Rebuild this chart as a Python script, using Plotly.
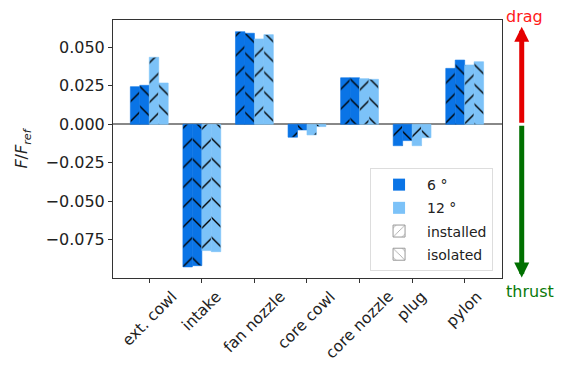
import plotly.graph_objects as go

categories = ["ext. cowl", "intake", "fan nozzle", "core cowl", "core nozzle", "plug", "pylon"]
inst_6 = [0.0244, -0.0926, 0.0601, -0.0084, 0.0302, -0.0139, 0.0363]
isol_6 = [0.0253, -0.0918, 0.0591, -0.0037, 0.0302, -0.0106, 0.0417]
inst_12 = [0.0435, -0.0820, 0.0554, -0.0069, 0.0296, -0.0139, 0.0385]
isol_12 = [0.0268, -0.0827, 0.0582, -0.0015, 0.0292, -0.0087, 0.0406]
y_ticks = [-0.075, -0.050, -0.025, 0.000, 0.025, 0.050]

DARK = "#0a74e6"
LIGHT = "#7cc2f8"
FONT = "DejaVu Sans"

series = [
    (inst_6, DARK, "/"),
    (isol_6, DARK, "\\"),
    (inst_12, LIGHT, "/"),
    (isol_12, LIGHT, "\\"),
]

fig = go.Figure()
bw = 0.18
for i, (vals, col, hatch) in enumerate(series):
    fig.add_trace(go.Bar(
        x=categories, y=vals, width=bw, offset=-2 * bw + i * bw,
        marker=dict(color=col, line=dict(color=col, width=0.6),
                    pattern=dict(shape=hatch, fgcolor="black", fgopacity=1,
                                 size=14, solidity=0.1)),
        showlegend=False, hoverinfo="skip",
    ))

# legend-only entries
legend_items = [
    ("6 °", dict(color=DARK, line=dict(color=DARK, width=0))),
    ("12 °", dict(color=LIGHT, line=dict(color=LIGHT, width=0))),
    ("installed", dict(color="white", line=dict(color="#999", width=1),
                       pattern=dict(shape="/", fgcolor="#333", size=8, solidity=0.12))),
    ("isolated", dict(color="white", line=dict(color="#999", width=1),
                      pattern=dict(shape="\\", fgcolor="#333", size=8, solidity=0.12))),
]
for k, (name, mk) in enumerate(legend_items):
    fig.add_trace(go.Bar(x=[None], y=[None], name=name, marker=mk, legendgroup=f"g{k}"))

annotations = []
for c in categories:
    annotations.append(dict(text=c, x=c, xref="x", y=-0.033, yref="paper",
                            xanchor="center", yanchor="top", textangle=-45, borderpad=0,
                            showarrow=False, font=dict(size=15.5, color="#222", family=FONT)))
# drag / thrust arrows
annotations.append(dict(text="", x=1.0507, xref="paper", y=0.0633, yref="y",
                        ax=0, axref="pixel", ay=0, ayref="y", showarrow=True,
                        arrowhead=2, arrowsize=0.6, arrowwidth=5, arrowcolor="#e50000"))
annotations.append(dict(text="", x=1.0507, xref="paper", y=-0.0995, yref="y",
                        ax=0, axref="pixel", ay=0, ayref="y", showarrow=True,
                        arrowhead=2, arrowsize=0.6, arrowwidth=5, arrowcolor="#007000"))
annotations.append(dict(text="drag", x=1.008, xref="paper", y=1.012, yref="paper",
                        xanchor="left", yanchor="middle", showarrow=False, borderpad=0,
                        font=dict(size=16, color="#ff1a1a", family=FONT)))
annotations.append(dict(text="thrust", x=1.008, xref="paper", y=-0.054, yref="paper",
                        xanchor="left", yanchor="middle", showarrow=False, borderpad=0,
                        font=dict(size=16, color="#0a7a0a", family=FONT)))

# page body has an 8px margin, so the figure is 8px smaller and margins shifted
fig.update_layout(
    width=558, height=359,
    margin=dict(l=105, r=64, t=12, b=89),
    plot_bgcolor="white", paper_bgcolor="white",
    barmode="overlay",
    font=dict(family=FONT, size=16, color="#222"),
    annotations=annotations,
    legend=dict(x=0.977, xanchor="right", y=0.027, yanchor="bottom",
                bgcolor="rgba(255,255,255,0.8)", bordercolor="#dddddd", borderwidth=1,
                font=dict(size=14, family=FONT, color="#222"), tracegroupgap=2,
                itemwidth=46),
    xaxis=dict(type="category", range=[-0.69, 6.71], showticklabels=False,
               ticks="outside", ticklen=4, tickcolor="#333",
               showline=True, linecolor="#333", linewidth=1, mirror=True, showgrid=False),
    yaxis=dict(range=[-0.0998, 0.0677], tickvals=y_ticks, tickformat=".3f",
               ticks="outside", ticklen=4, tickcolor="#333",
               showline=True, linecolor="#333", linewidth=1, mirror=True, showgrid=False,
               zeroline=True, zerolinecolor="#888", zerolinewidth=1.5,
               tickfont=dict(size=16, color="#222"),
               title=dict(text="<i>F</i>/<i>F</i><sub><i>ref</i></sub>", standoff=13,
                          font=dict(size=16, color="#222"))),
)

fig.write_html("out.html")
